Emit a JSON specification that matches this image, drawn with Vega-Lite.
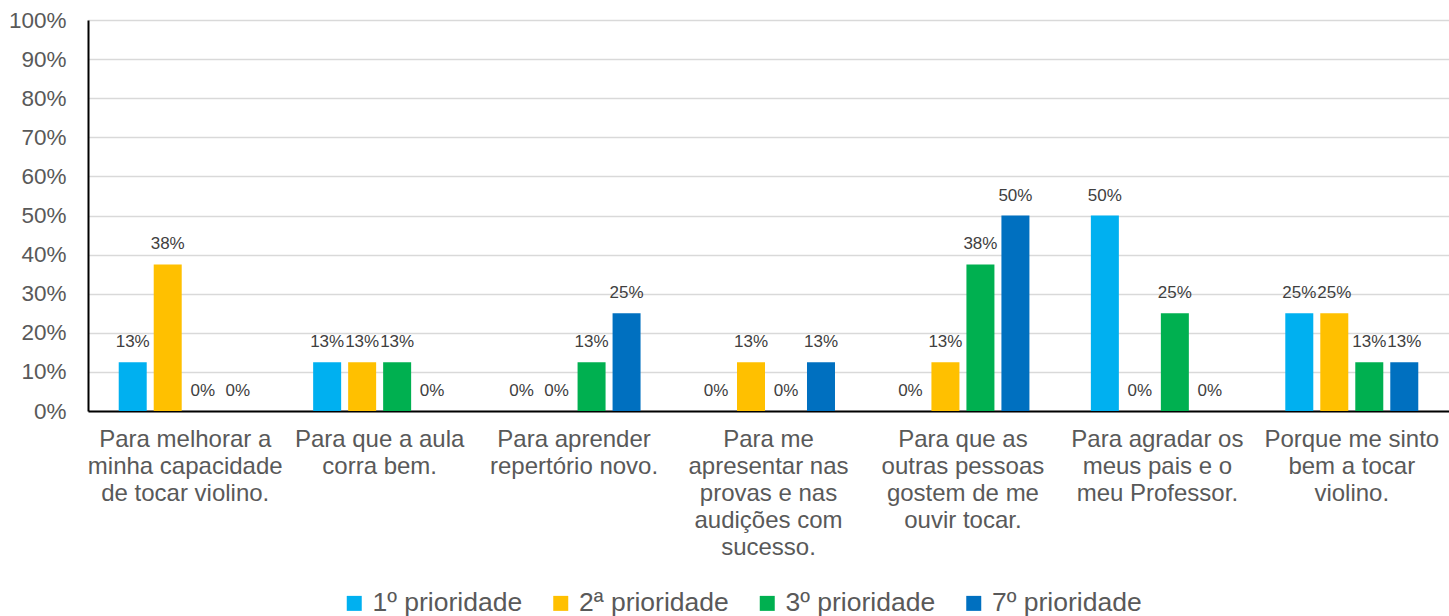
{
  "$schema": "https://vega.github.io/schema/vega-lite/v6.json",
  "width": 1361,
  "height": 391,
  "autosize": {"type": "none"},
  "padding": {"left": 88, "top": 20, "right": 0, "bottom": 205},
  "background": "white",
  "config": {
    "view": {"stroke": null},
    "font": "Liberation Sans",
    "axis": {"labelFont": "Liberation Sans", "labelColor": "#595959", "titleColor": "#595959"},
    "legend": {"labelFont": "Liberation Sans"}
  },
  "data": {
    "values": [
      {"cat": "Para melhorar a|minha capacidade|de tocar violino.", "serie": "1º prioridade", "valor": 0.125},
      {"cat": "Para melhorar a|minha capacidade|de tocar violino.", "serie": "2ª prioridade", "valor": 0.375},
      {"cat": "Para melhorar a|minha capacidade|de tocar violino.", "serie": "3º prioridade", "valor": 0},
      {"cat": "Para melhorar a|minha capacidade|de tocar violino.", "serie": "7º prioridade", "valor": 0},
      {"cat": "Para que a aula|corra bem.", "serie": "1º prioridade", "valor": 0.125},
      {"cat": "Para que a aula|corra bem.", "serie": "2ª prioridade", "valor": 0.125},
      {"cat": "Para que a aula|corra bem.", "serie": "3º prioridade", "valor": 0.125},
      {"cat": "Para que a aula|corra bem.", "serie": "7º prioridade", "valor": 0},
      {"cat": "Para aprender|repertório novo.", "serie": "1º prioridade", "valor": 0},
      {"cat": "Para aprender|repertório novo.", "serie": "2ª prioridade", "valor": 0},
      {"cat": "Para aprender|repertório novo.", "serie": "3º prioridade", "valor": 0.125},
      {"cat": "Para aprender|repertório novo.", "serie": "7º prioridade", "valor": 0.25},
      {"cat": "Para me|apresentar nas|provas e nas|audições com|sucesso.", "serie": "1º prioridade", "valor": 0},
      {"cat": "Para me|apresentar nas|provas e nas|audições com|sucesso.", "serie": "2ª prioridade", "valor": 0.125},
      {"cat": "Para me|apresentar nas|provas e nas|audições com|sucesso.", "serie": "3º prioridade", "valor": 0},
      {"cat": "Para me|apresentar nas|provas e nas|audições com|sucesso.", "serie": "7º prioridade", "valor": 0.125},
      {"cat": "Para que as|outras pessoas|gostem de me|ouvir tocar.", "serie": "1º prioridade", "valor": 0},
      {"cat": "Para que as|outras pessoas|gostem de me|ouvir tocar.", "serie": "2ª prioridade", "valor": 0.125},
      {"cat": "Para que as|outras pessoas|gostem de me|ouvir tocar.", "serie": "3º prioridade", "valor": 0.375},
      {"cat": "Para que as|outras pessoas|gostem de me|ouvir tocar.", "serie": "7º prioridade", "valor": 0.5},
      {"cat": "Para agradar os|meus pais  e o|meu Professor.", "serie": "1º prioridade", "valor": 0.5},
      {"cat": "Para agradar os|meus pais  e o|meu Professor.", "serie": "2ª prioridade", "valor": 0},
      {"cat": "Para agradar os|meus pais  e o|meu Professor.", "serie": "3º prioridade", "valor": 0.25},
      {"cat": "Para agradar os|meus pais  e o|meu Professor.", "serie": "7º prioridade", "valor": 0},
      {"cat": "Porque me sinto|bem a tocar|violino.", "serie": "1º prioridade", "valor": 0.25},
      {"cat": "Porque me sinto|bem a tocar|violino.", "serie": "2ª prioridade", "valor": 0.25},
      {"cat": "Porque me sinto|bem a tocar|violino.", "serie": "3º prioridade", "valor": 0.125},
      {"cat": "Porque me sinto|bem a tocar|violino.", "serie": "7º prioridade", "valor": 0.125}
    ]
  },
  "encoding": {
    "x": {
      "field": "cat", "type": "nominal", "sort": null,
      "scale": {"paddingInner": 0.28, "paddingOuter": 0.14},
      "axis": {
        "title": null, "labelAngle": 0, "ticks": false,
        "domainColor": "#000000", "domainWidth": 2,
        "labelFontSize": 24, "labelLineHeight": 27, "labelPadding": 16,
        "labelExpr": "split(datum.label, '|')", "labelLimit": 0
      }
    },
    "xOffset": {
      "field": "serie", "type": "nominal", "sort": null,
      "scale": {"paddingInner": 0.2, "paddingOuter": 0.1}
    },
    "y": {
      "field": "valor", "type": "quantitative",
      "scale": {"domain": [0, 1], "nice": false},
      "axis": {
        "title": null, "format": ".0%", "ticks": false,
        "values": [0, 0.1, 0.2, 0.3, 0.4, 0.5, 0.6, 0.7, 0.8, 0.9, 1],
        "labelFontSize": 22.5, "labelPadding": 22,
        "domainColor": "#000000", "domainWidth": 2,
        "grid": true, "gridColor": "#d9d9d9", "gridWidth": 1.5
      }
    }
  },
  "layer": [
    {
      "mark": {"type": "bar"},
      "encoding": {
        "color": {
          "field": "serie", "type": "nominal", "sort": null,
          "scale": {"domain": ["1º prioridade", "2ª prioridade", "3º prioridade", "7º prioridade"], "range": ["#00B0F0", "#FFC000", "#00B050", "#0070C0"]},
          "legend": {
            "title": null, "orient": "none", "direction": "horizontal",
            "legendX": 253, "legendY": 570, "padding": 0,
            "symbolType": "square", "symbolSize": 225, "symbolStrokeWidth": 0,
            "labelFontSize": 26.5, "labelColor": "#595959", "labelOffset": 5,
            "columnPadding": 24.5, "labelLimit": 0
          }
        }
      }
    },
    {
      "mark": {"type": "text", "baseline": "alphabetic", "dy": -15, "fontSize": 17, "color": "#404040"},
      "encoding": {
        "text": {"field": "valor", "type": "quantitative", "format": ".0%"}
      }
    }
  ]
}
